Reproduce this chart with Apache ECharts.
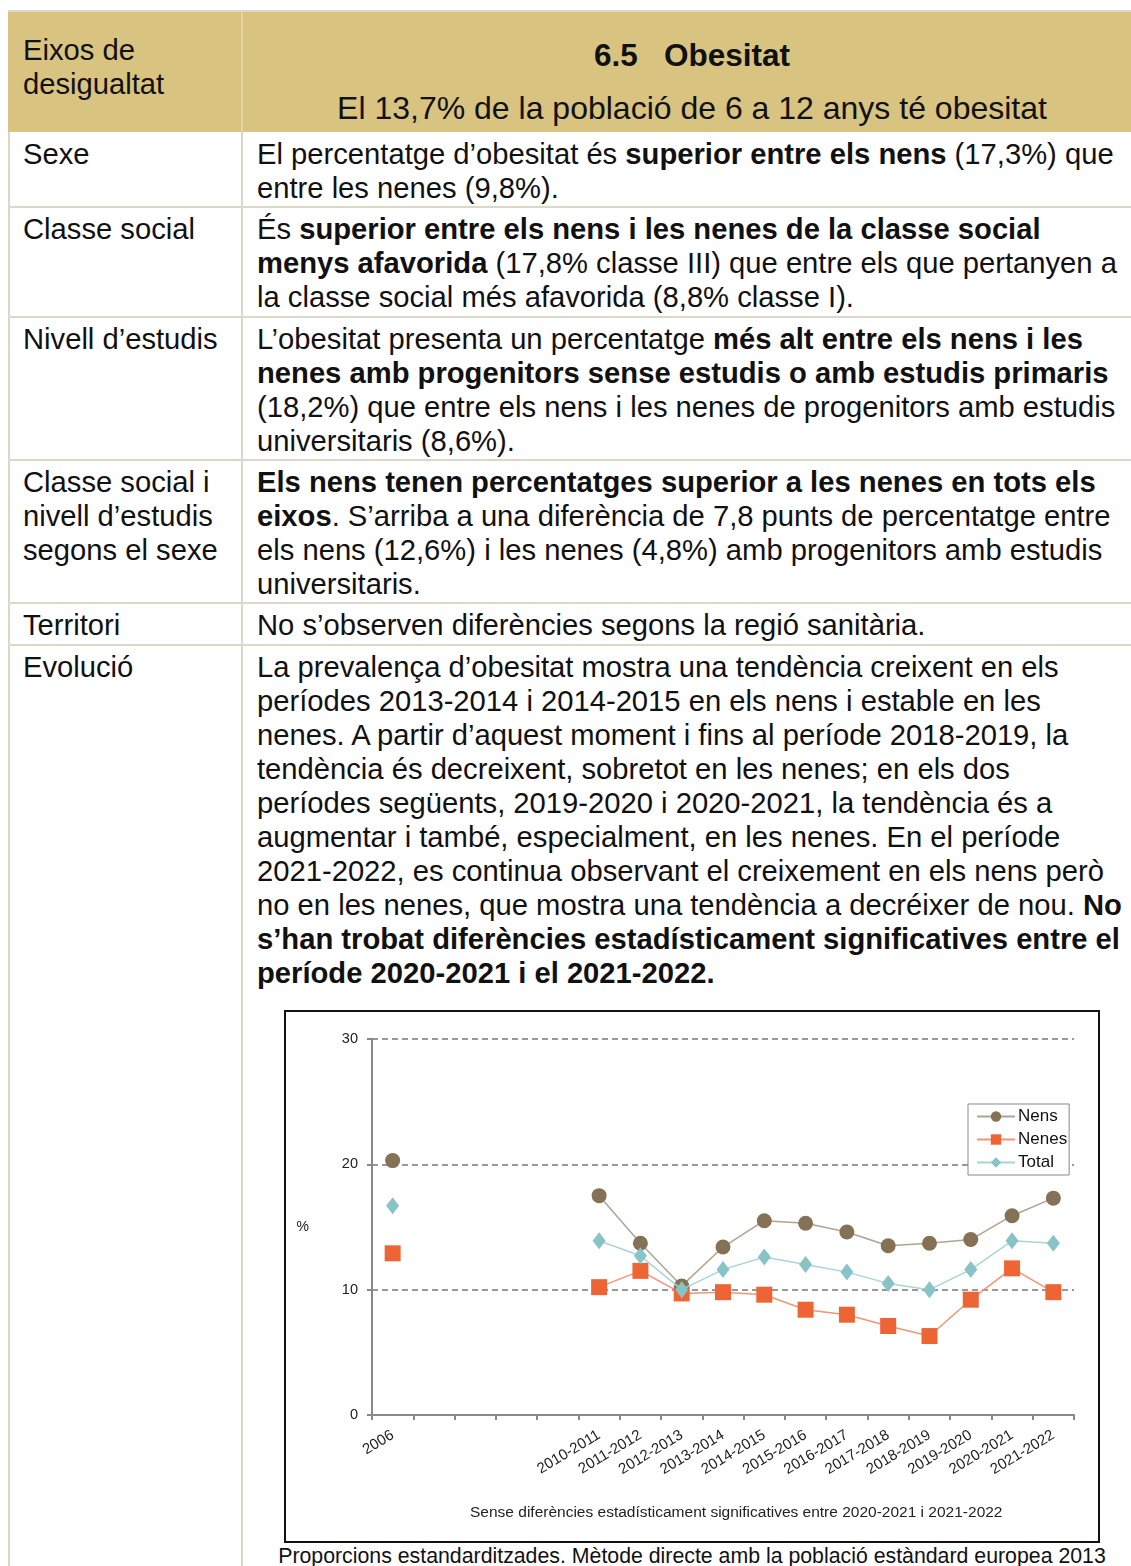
<!DOCTYPE html>
<html>
<head>
<meta charset="utf-8">
<script src="https://cdn.jsdelivr.net/npm/echarts@6/dist/echarts.min.js"></script>
<style>
  html, body { margin:0; padding:0; background:#fff; }
  body { width:1131px; height:1566px; position:relative; overflow:hidden;
         font-family:"Liberation Sans", Arial, sans-serif; color:#111; }
  .hdr { position:absolute; left:8px; top:10px; width:1123px; height:122px; background:#D8C381; border-top:2px solid #DDD8C8; box-sizing:border-box; }
  .hline { position:absolute; left:8px; width:1123px; height:2px; background:#DCD7C6; }
  .vline { position:absolute; width:2px; background:#DCD7C6; }
  .t { position:absolute; font-size:29.2px; line-height:34px; white-space:nowrap; }
  .c { position:absolute; white-space:nowrap; text-align:center; }
  b { font-weight:bold; }
  #chart { position:absolute; left:284px; top:1010px; width:816px; height:533px; border:2px solid #111; box-sizing:border-box; }
  .foot { position:absolute; left:253px; width:878px; top:1543px; text-align:center; font-size:21.3px; line-height:26px; white-space:nowrap; }
</style>
</head>
<body>
<div class="hdr"></div>
<div class="vline" style="left:8px;top:132px;height:1434px;"></div>
<div class="vline" style="left:241px;top:12px;height:1554px;"></div>
<div class="vline" style="left:241px;top:12px;height:120px;background:#E4D5A5;"></div>
<div class="hline" style="top:206px;"></div>
<div class="hline" style="top:316px;"></div>
<div class="hline" style="top:459px;"></div>
<div class="hline" style="top:602px;"></div>
<div class="hline" style="top:644px;"></div>

<div class="t" style="left:23px;top:33px;">Eixos de<br>desigualtat</div>
<div class="c" style="left:253px;width:878px;top:38px;line-height:34px;font-size:31.5px;"><b>6.5&nbsp;&nbsp; Obesitat</b></div>
<div class="c" style="left:253px;width:878px;top:91px;line-height:34px;font-size:32px;">El 13,7% de la població de 6 a 12 anys té obesitat</div>

<div class="t" style="left:23px;top:137px;">Sexe</div>
<div class="t" style="left:257px;top:137px;">El percentatge d’obesitat és <b>superior entre els nens</b> (17,3%) que<br>entre les nenes (9,8%).</div>

<div class="t" style="left:23px;top:212px;">Classe social</div>
<div class="t" style="left:257px;top:212px;">És <b>superior entre els nens i les nenes de la classe social</b><br><b>menys afavorida</b> (17,8% classe III) que entre els que pertanyen a<br>la classe social més afavorida (8,8% classe I).</div>

<div class="t" style="left:23px;top:322px;">Nivell d’estudis</div>
<div class="t" style="left:257px;top:322px;">L’obesitat presenta un percentatge <b>més alt entre els nens i les</b><br><b>nenes amb progenitors sense estudis o amb estudis primaris</b><br>(18,2%) que entre els nens i les nenes de progenitors amb estudis<br>universitaris (8,6%).</div>

<div class="t" style="left:23px;top:465px;">Classe social i<br>nivell d’estudis<br>segons el sexe</div>
<div class="t" style="left:257px;top:465px;"><b>Els nens tenen percentatges superior a les nenes en tots els</b><br><b>eixos</b>. S’arriba a una diferència de 7,8 punts de percentatge entre<br>els nens (12,6%) i les nenes (4,8%) amb progenitors amb estudis<br>universitaris.</div>

<div class="t" style="left:23px;top:608px;">Territori</div>
<div class="t" style="left:257px;top:608px;">No s’observen diferències segons la regió sanitària.</div>

<div class="t" style="left:23px;top:650px;">Evolució</div>
<div class="t" style="left:257px;top:650px;">La prevalença d’obesitat mostra una tendència creixent en els<br>períodes 2013-2014 i 2014-2015 en els nens i estable en les<br>nenes. A partir d’aquest moment i fins al període 2018-2019, la<br>tendència és decreixent, sobretot en les nenes; en els dos<br>períodes següents, 2019-2020 i 2020-2021, la tendència és a<br>augmentar i també, especialment, en les nenes. En el període<br>2021-2022, es continua observant el creixement en els nens però<br>no en les nenes, que mostra una tendència a decréixer de nou. <b>No</b><br><b>s’han trobat diferències estadísticament significatives entre el</b><br><b>període 2020-2021 i el 2021-2022.</b></div>

<div id="chart"></div>
<div class="foot">Proporcions estandarditzades. Mètode directe amb la població estàndard europea 2013</div>

<script>
// ---- data ----
const categories = ['2006','2007','2008','2009','2010','2010-2011','2011-2012','2012-2013','2013-2014','2014-2015','2015-2016','2016-2017','2017-2018','2018-2019','2019-2020','2020-2021','2021-2022'];
const tickLabels = ['2006','','','','','2010-2011','2011-2012','2012-2013','2013-2014','2014-2015','2015-2016','2016-2017','2017-2018','2018-2019','2019-2020','2020-2021','2021-2022'];
const nens  = [20.3, null, null, null, null, 17.5, 13.7, 10.3, 13.4, 15.5, 15.3, 14.6, 13.5, 13.7, 14.0, 15.9, 17.3];
const nenes = [12.9, null, null, null, null, 10.2, 11.5, 9.7, 9.8, 9.6, 8.4, 8.0, 7.1, 6.3, 9.2, 11.7, 9.8];
const total = [16.7, null, null, null, null, 13.9, 12.7, 10.0, 11.6, 12.6, 12.0, 11.4, 10.5, 10.0, 11.6, 13.9, 13.7];
const yTicks = [0, 10, 20, 30];
const noteText = 'Sense diferències estadísticament significatives entre 2020-2021 i 2021-2022';

const chart = echarts.init(document.getElementById('chart'), null, {renderer:'canvas'});
const font = '"Liberation Sans", Arial, sans-serif';
chart.setOption({
  animation: false,
  textStyle: { fontFamily: font },
  grid: { left: 86, right: 24, top: 27, bottom: 126 },
  legend: {
    orient: 'vertical', left: 682, top: 92,
    backgroundColor: '#fff', borderColor: '#888', borderWidth: 1,
    padding: [4, 2, 4, 8],
    itemWidth: 38, itemHeight: 13, itemGap: 6,
    textStyle: { fontSize: 17, color: '#111', fontFamily: font, padding: [0, 0, 0, -2] },
    data: ['Nens', 'Nenes', 'Total']
  },
  xAxis: {
    type: 'category', data: categories, boundaryGap: true,
    axisLine: { lineStyle: { color: '#888', width: 2 } },
    axisTick: { show: true, interval: 0, length: 5, lineStyle: { color: '#888', width: 2 } },
    axisLabel: { interval: 0, rotate: 31, fontSize: 15, color: '#222', margin: 19,
                 formatter: (v, i) => tickLabels[i] }
  },
  yAxis: {
    type: 'value', min: yTicks[0], max: yTicks[yTicks.length-1], interval: 10,
    name: '%', nameLocation: 'middle', nameRotate: 0, nameGap: 63,
    nameTextStyle: { fontSize: 14, color: '#222' },
    axisLine: { show: true, lineStyle: { color: '#888', width: 2 } },
    axisTick: { show: true, length: 5, lineStyle: { color: '#888', width: 2 } },
    axisLabel: { fontSize: 14.5, color: '#222', margin: 14 },
    splitLine: { lineStyle: { color: '#777', type: [6, 4], width: 1.6 } }
  },
  graphic: [{
    type: 'text', left: 184, top: 493,
    style: { text: noteText, font: '15.5px ' + font, fill: '#222' }
  }],
  series: [
    { name: 'Nens', type: 'line', data: nens, connectNulls: false,
      symbol: 'circle', symbolSize: 15,
      itemStyle: { color: '#857256' }, lineStyle: { color: '#B0A48F', width: 1.5 }, z: 3 },
    { name: 'Nenes', type: 'line', data: nenes, connectNulls: false,
      symbol: 'rect', symbolSize: 16,
      itemStyle: { color: '#EE6535' }, lineStyle: { color: '#F29574', width: 1.5 }, z: 2 },
    { name: 'Total', type: 'line', data: total, connectNulls: false,
      symbol: 'diamond', symbolSize: [13, 17],
      itemStyle: { color: '#88C3C6' }, lineStyle: { color: '#A8D5D8', width: 1.5 }, z: 4 }
  ]
});
</script>
</body>
</html>
